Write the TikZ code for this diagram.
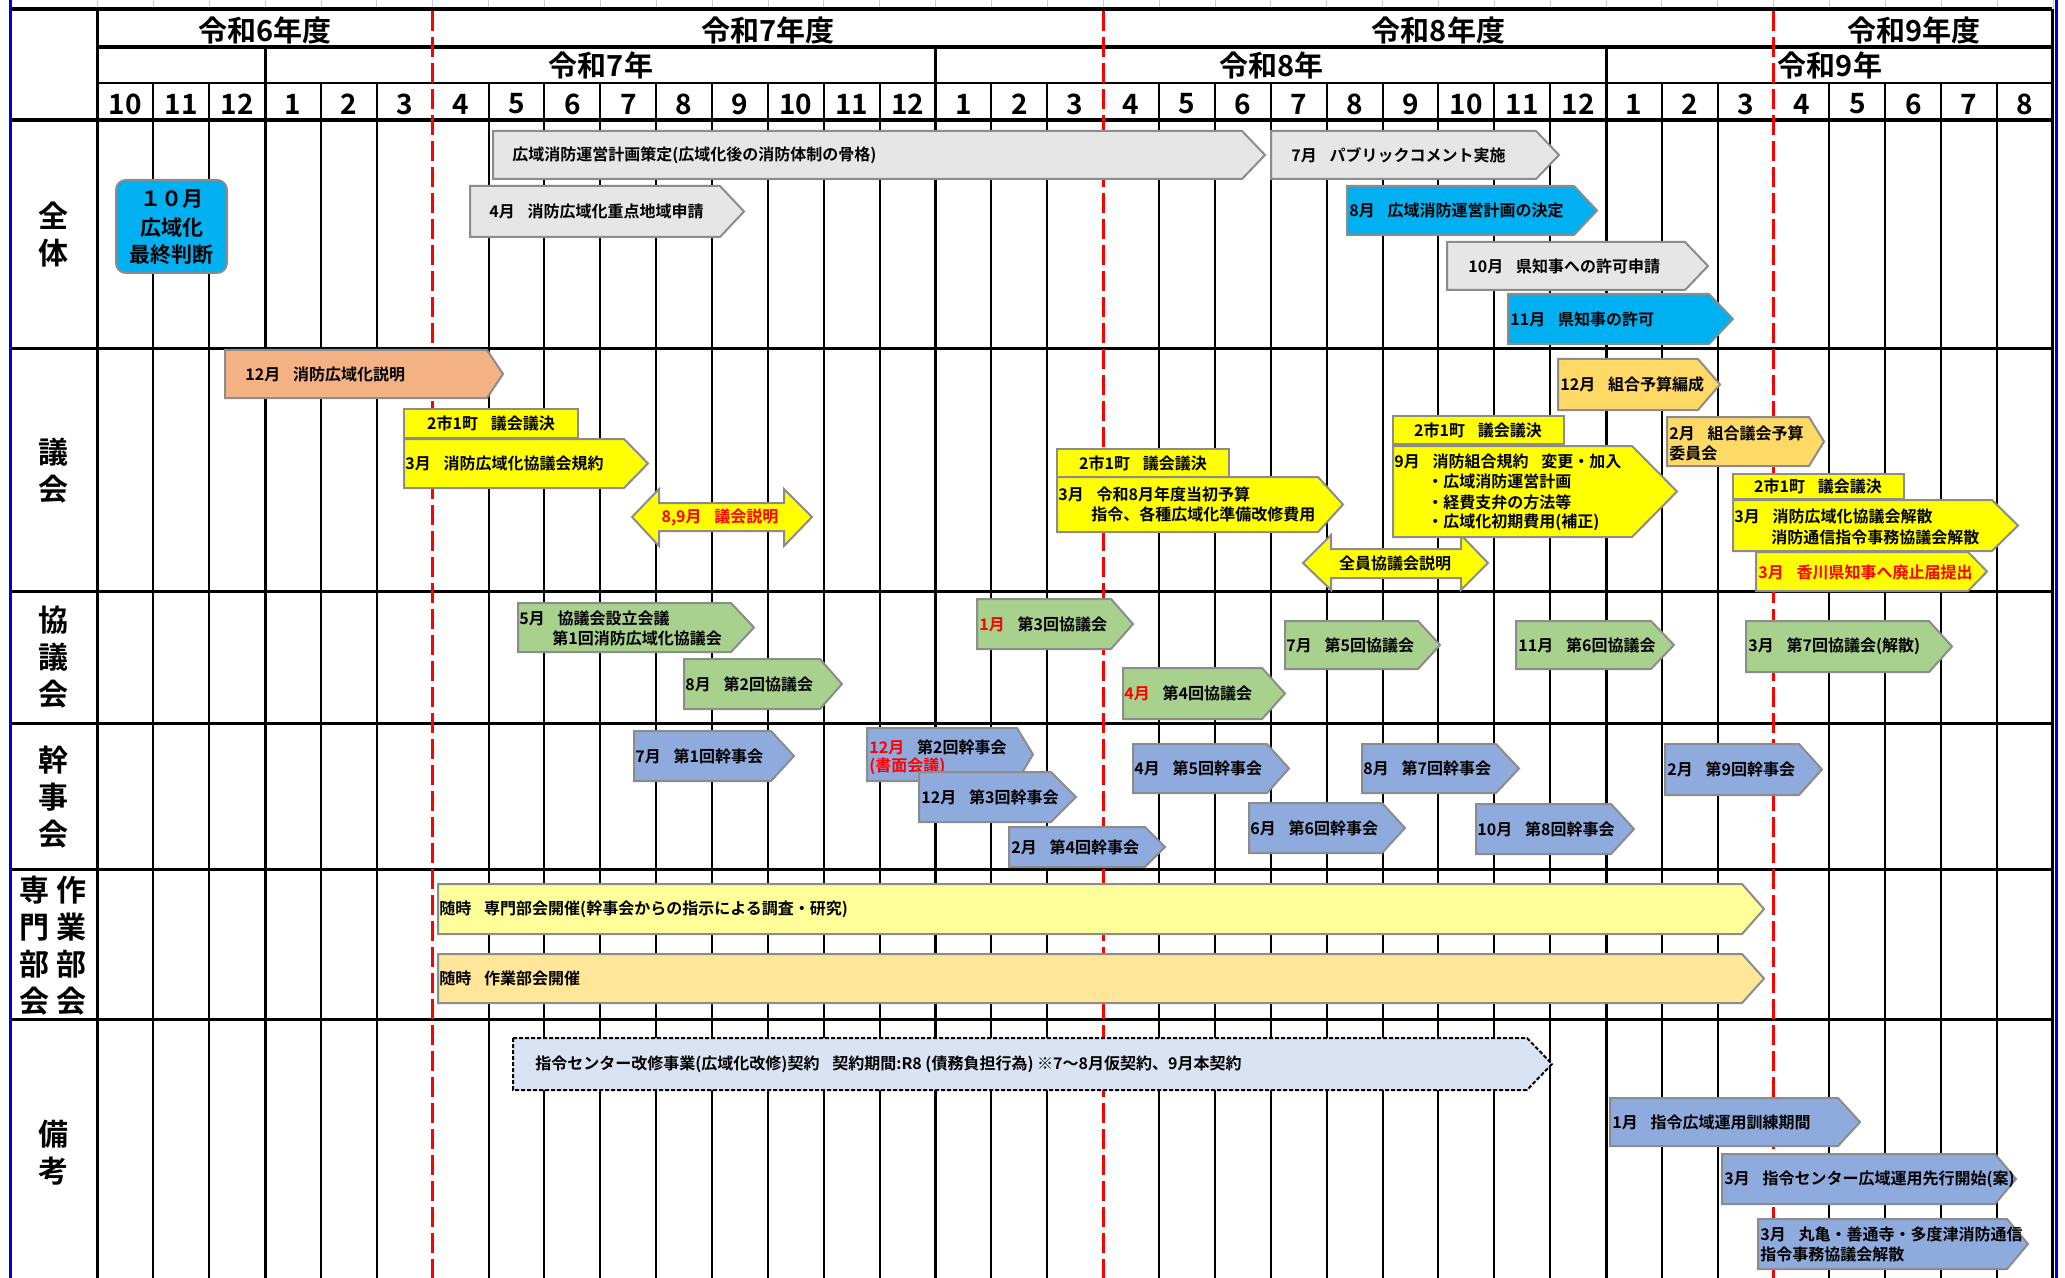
\documentclass[tikz,border=0pt]{standalone}
\usepackage{fontspec}
\setmainfont{Noto Sans CJK JP}[BoldFont={Noto Sans CJK JP Bold}]
\definecolor{barline}{RGB}{140,140,140}
\definecolor{graybar}{RGB}{231,230,230}
\definecolor{cyanbar}{RGB}{0,176,240}
\definecolor{salmonbar}{RGB}{244,177,131}
\definecolor{yellowbar}{RGB}{255,255,0}
\definecolor{goldbar}{RGB}{255,217,102}
\definecolor{greenbar}{RGB}{169,209,142}
\definecolor{bluebar}{RGB}{143,170,220}
\definecolor{paleyellow}{RGB}{255,255,153}
\definecolor{paleorange}{RGB}{255,230,153}
\definecolor{paleblue}{RGB}{218,227,243}
\definecolor{frameblue}{RGB}{0,0,210}
\newcommand{\gp}{\hspace{0.8em}}

\begin{document}
\begin{tikzpicture}[x=0.5pt,y=-0.5pt,
  txt/.style={anchor=west,font=\bfseries\fontsize{8}{10}\selectfont},
  ctr/.style={font=\bfseries\fontsize{8}{10}\selectfont},
  month/.style={font=\bfseries\fontsize{14}{16}\selectfont},
  fyear/.style={font=\bfseries\fontsize{14.5}{17}\selectfont},
  sect/.style={font=\bfseries\fontsize{15}{18.5}\selectfont,align=center},
  judge/.style={font=\bfseries\fontsize{10.5}{12}\selectfont},
  bar/.style={draw=barline,line width=1pt},
  grid/.style={black,line width=1pt},
  yeargrid/.style={black,line width=1.5pt},
  headgrid/.style={black,line width=2pt},
  fyline/.style={red,line width=1.5pt,dash pattern=on 10pt off 3pt}]
\tikzstyle{every node}+=[inner sep=0pt]
\useasboundingbox (0,0) rectangle (2065,1278);
\fill [white] (0,0) rectangle (2065,1278);

% grid
\foreach \i in {0,...,35}
  \draw [black!20] ({97.5+\i*55.87},0) -- ({97.5+\i*55.87},9);
\foreach \i in {1,2,4,5,7,8,9,10,11,12,13,14,16,17,19,20,21,22,23,24,25,26,28,29,31,32,33,34}
  \draw [grid] ({97.5+\i*55.87},82.7) -- ({97.5+\i*55.87},1278);
\foreach \i in {3,15,27}
  \draw [yeargrid] ({97.5+\i*55.87},46.7) -- ({97.5+\i*55.87},1278);
\draw [yeargrid] (97.5,9.3) -- (97.5,1278);
\draw [yeargrid] (2052,9.3) -- (2052,1278);
\draw [headgrid] (10,9.3) -- (2052,9.3);
\draw [headgrid] (97.5,46.7) -- (2052,46.7);
\draw [grid] (97.5,82.7) -- (2052,82.7);
\draw [headgrid] (10,120) -- (2052,120);
\foreach \y in {349,591.7,723.3,869.5,1019}
  \draw [yeargrid] (10,\y) -- (2052,\y);
\foreach \x in {432.8,1103.2,1773.6}
  \draw [fyline] (\x,11) -- (\x,1278);
\draw [frameblue,line width=1.5pt] (10,0) -- (10,1278);
\draw [frameblue,line width=1.5pt] (2056,0) -- (2056,1278);

% header
\node [fyear] (fy6) at (265,30) {令和6年度};
\node [fyear] (fy7) at (768,30) {令和7年度};
\node [fyear] (fy8) at (1438.5,30) {令和8年度};
\node [fyear] (fy9) at (1914,30) {令和9年度};
\node [fyear] (cy7) at (601,65.5) {令和7年};
\node [fyear] (cy8) at (1271.5,65.5) {令和8年};
\node [fyear] (cy9) at (1830,65.5) {令和9年};
\foreach \m [count=\i from 0] in {10,11,12,1,2,3,4,5,6,7,8,9,10,11,12,1,2,3,4,5,6,7,8,9,10,11,12,1,2,3,4,5,6,7,8}
  \node [month] (mon\i) at ({97.5+(\i+0.5)*55.87},104) {\m};

% row labels
\node [sect] (secall) at (53,235) {全\\体};
\node [sect] (secgikai) at (53,470.5) {議\\会};
\node [sect] (seckyo) at (53,657.5) {協\\議\\会};
\node [sect] (seckanji) at (53,797.5) {幹\\事\\会};
\node [sect] (secsenmon) at (34.5,946) {専\\門\\部\\会};
\node [sect] (secsagyo) at (71,946) {作\\業\\部\\会};
\node [sect] (secbiko) at (53,1153) {備\\考};

% zentai
\draw [bar,fill=cyanbar,rounded corners=5pt] (116,180) rectangle (227,273);
\node [judge] (judge1) at (171.5,199) {１０月};
\node [judge] (judge2) at (171.5,227.5) {広域化};
\node [judge] (judge3) at (171.5,255) {最終判断};
\draw [bar,fill=graybar] (493,131) -- (1242,131) -- (1265,155) -- (1242,179) -- (493,179) -- cycle;
\node [txt] (plan) at (512,155) {広域消防運営計画策定(広域化後の消防体制の骨格)};
\draw [bar,fill=graybar] (470,186) -- (720,186) -- (744,211.5) -- (720,237) -- (470,237) -- cycle;
\node [txt] (area) at (489,211.5) {4月\gp 消防広域化重点地域申請};
\draw [bar,fill=graybar] (1271,131) -- (1536,131) -- (1559,155) -- (1536,179) -- (1271,179) -- cycle;
\node [txt] (pubcom) at (1291,155) {7月\gp パブリックコメント実施};
\draw [bar,fill=cyanbar] (1347,186) -- (1574,186) -- (1597,210.5) -- (1574,235) -- (1347,235) -- cycle;
\node [txt] (decide) at (1349,210.5) {8月\gp 広域消防運営計画の決定};
\draw [bar,fill=graybar] (1447,242) -- (1685,242) -- (1708,266) -- (1685,290) -- (1447,290) -- cycle;
\node [txt] (permitreq) at (1468,266) {10月\gp 県知事への許可申請};
\draw [bar,fill=cyanbar] (1508,294) -- (1709,294) -- (1733,319) -- (1709,344) -- (1508,344) -- cycle;
\node [txt] (permit) at (1510,319) {11月\gp 県知事の許可};

% gikai
\draw [bar,fill=salmonbar] (225,350) -- (487,350) -- (503,374) -- (487,398) -- (225,398) -- cycle;
\node [txt] (explain) at (245,374) {12月\gp 消防広域化説明};
\draw [bar,fill=yellowbar] (404,409) rectangle (578,438);
\node [ctr] (voteA) at (491,423.5) {2市1町\gp 議会議決};
\draw [bar,fill=yellowbar] (404,439) -- (624,439) -- (648,463.5) -- (624,488) -- (404,488) -- cycle;
\node [txt] (rule) at (405,463.5) {3月\gp 消防広域化協議会規約};
\draw [bar,fill=yellowbar] (632,517) -- (659,489) -- (659,503) -- (784,503) -- (784,489) -- (812,517) -- (784,546) -- (784,531) -- (659,531) -- (659,546) -- cycle;
\node [ctr,text=red] (assembly) at (720,517) {8,9月\gp 議会説明};
\draw [bar,fill=yellowbar] (1057,449) rectangle (1229,477);
\node [ctr] (voteB) at (1143,463) {2市1町\gp 議会議決};
\draw [bar,fill=yellowbar] (1057,477) -- (1318,477) -- (1343,504.5) -- (1318,532) -- (1057,532) -- cycle;
\node [txt] (budgetA) at (1058,494) {3月\gp 令和8月年度当初予算};
\node [txt] (budgetB) at (1091,514) {指令、各種広域化準備改修費用};
\draw [bar,fill=yellowbar] (1303,563) -- (1331,535) -- (1331,549) -- (1461,549) -- (1461,535) -- (1488,563) -- (1461,590) -- (1461,578) -- (1331,578) -- (1331,590) -- cycle;
\node [ctr] (members) at (1395,563) {全員協議会説明};
\draw [bar,fill=yellowbar] (1393,416) rectangle (1564,444);
\node [ctr] (voteC) at (1478,430) {2市1町\gp 議会議決};
\draw [bar,fill=yellowbar] (1393,446) -- (1632,446) -- (1677,491.5) -- (1632,537) -- (1393,537) -- cycle;
\node [txt] (unionA) at (1394,461) {9月\gp 消防組合規約\gp 変更・加入};
\node [txt] (unionB) at (1427,481) {・広域消防運営計画};
\node [txt] (unionC) at (1427,502) {・経費支弁の方法等};
\node [txt] (unionD) at (1427,522) {・広域化初期費用(補正)};
\draw [bar,fill=goldbar] (1558,359) -- (1698,359) -- (1720,384.5) -- (1698,410) -- (1558,410) -- cycle;
\node [txt] (ubudget) at (1560,384.5) {12月\gp 組合予算編成};
\draw [bar,fill=goldbar] (1667,417) -- (1809,417) -- (1824,441.5) -- (1809,466) -- (1667,466) -- cycle;
\node [txt] (ucommA) at (1669,433) {2月\gp 組合議会予算};
\node [txt] (ucommB) at (1669,453) {委員会};
\draw [bar,fill=yellowbar] (1733,474) rectangle (1904,499);
\node [ctr] (voteD) at (1818,486.5) {2市1町\gp 議会議決};
\draw [bar,fill=yellowbar] (1733,500) -- (1992,500) -- (2018,525.5) -- (1992,551) -- (1733,551) -- cycle;
\node [txt] (dissolveA) at (1734,516) {3月\gp 消防広域化協議会解散};
\node [txt] (dissolveB) at (1771,537) {消防通信指令事務協議会解散};
\draw [bar,fill=yellowbar] (1756,552) -- (1968,552) -- (1987,571.5) -- (1968,591) -- (1756,591) -- cycle;
\node [txt,text=red] (notice) at (1758,572) {3月\gp 香川県知事へ廃止届提出};

% kyogikai
\draw [bar,fill=greenbar] (518,603) -- (731,603) -- (754,627.5) -- (731,652) -- (518,652) -- cycle;
\node [txt] (kyo1A) at (519,618) {5月\gp 協議会設立会議};
\node [txt] (kyo1B) at (552,638) {第1回消防広域化協議会};
\draw [bar,fill=greenbar] (684,659) -- (820,659) -- (842,684) -- (820,709) -- (684,709) -- cycle;
\node [txt] (kyo2) at (685,684) {8月\gp 第2回協議会};
\draw [bar,fill=greenbar] (977,599) -- (1111,599) -- (1133,624) -- (1111,649) -- (977,649) -- cycle;
\node [txt] (kyo3) at (979,624) {{\color{red}1月}\gp 第3回協議会};
\draw [bar,fill=greenbar] (1123,668) -- (1262,668) -- (1285,693.5) -- (1262,719) -- (1123,719) -- cycle;
\node [txt] (kyo4) at (1124,693.5) {{\color{red}4月}\gp 第4回協議会};
\draw [bar,fill=greenbar] (1285,621) -- (1418,621) -- (1440,645) -- (1418,669) -- (1285,669) -- cycle;
\node [txt] (kyo5) at (1286,645) {7月\gp 第5回協議会};
\draw [bar,fill=greenbar] (1516,621) -- (1651,621) -- (1674,645) -- (1651,669) -- (1516,669) -- cycle;
\node [txt] (kyo6) at (1518,645) {11月\gp 第6回協議会};
\draw [bar,fill=greenbar] (1746,621) -- (1929,621) -- (1952,646.5) -- (1929,672) -- (1746,672) -- cycle;
\node [txt] (kyo7) at (1748,646.5) {3月\gp 第7回協議会(解散)};

% kanjikai
\draw [bar,fill=bluebar] (634,731) -- (771,731) -- (794,756) -- (771,781) -- (634,781) -- cycle;
\node [txt] (kan1) at (635,756) {7月\gp 第1回幹事会};
\draw [bar,fill=bluebar] (867,728) -- (1017,728) -- (1033,754.5) -- (1017,781) -- (867,781) -- cycle;
\node [txt] (kan2A) at (869,747) {{\color{red}12月}\gp 第2回幹事会};
\node [txt,text=red] (kan2B) at (869,766) {(書面会議)};
\draw [bar,fill=bluebar] (919,772) -- (1051,772) -- (1076,797) -- (1051,822) -- (919,822) -- cycle;
\node [txt] (kan3) at (921,797) {12月\gp 第3回幹事会};
\draw [bar,fill=bluebar] (1009,827) -- (1145,827) -- (1165,847) -- (1145,867) -- (1009,867) -- cycle;
\node [txt] (kan4) at (1011,847) {2月\gp 第4回幹事会};
\draw [bar,fill=bluebar] (1133,744) -- (1267,744) -- (1289,768.5) -- (1267,793) -- (1133,793) -- cycle;
\node [txt] (kan5) at (1134,768.5) {4月\gp 第5回幹事会};
\draw [bar,fill=bluebar] (1249,803) -- (1382,803) -- (1405,828) -- (1382,853) -- (1249,853) -- cycle;
\node [txt] (kan6) at (1250,828) {6月\gp 第6回幹事会};
\draw [bar,fill=bluebar] (1362,744) -- (1496,744) -- (1519,768.5) -- (1496,793) -- (1362,793) -- cycle;
\node [txt] (kan7) at (1363,768.5) {8月\gp 第7回幹事会};
\draw [bar,fill=bluebar] (1476,804) -- (1611,804) -- (1634,829) -- (1611,854) -- (1476,854) -- cycle;
\node [txt] (kan8) at (1477,829) {10月\gp 第8回幹事会};
\draw [bar,fill=bluebar] (1665,744) -- (1799,744) -- (1822,769.5) -- (1799,795) -- (1665,795) -- cycle;
\node [txt] (kan9) at (1667,769.5) {2月\gp 第9回幹事会};

% senmon / sagyo bukai
\draw [bar,fill=paleyellow] (438,884) -- (1742,884) -- (1764,909) -- (1742,934) -- (438,934) -- cycle;
\node [txt] (senmon) at (439,909) {随時\gp 専門部会開催(幹事会からの指示による調査・研究)};
\draw [bar,fill=paleorange] (438,954) -- (1742,954) -- (1764,978.5) -- (1742,1003) -- (438,1003) -- cycle;
\node [txt] (sagyo) at (439,978.5) {随時\gp 作業部会開催};

% biko
\draw [black,line width=1pt,dash pattern=on 2pt off 1pt,fill=paleblue] (513,1038) -- (1527,1038) -- (1552,1064) -- (1527,1090) -- (513,1090) -- cycle;
\node [txt] (contract) at (535,1064) {指令センター改修事業(広域化改修)契約\gp 契約期間:R8 (債務負担行為) ※7～8月仮契約、9月本契約};
\draw [bar,fill=bluebar] (1610,1098) -- (1838,1098) -- (1860,1122) -- (1838,1146) -- (1610,1146) -- cycle;
\node [txt] (training) at (1612,1122) {1月\gp 指令広域運用訓練期間};
\draw [bar,fill=bluebar] (1722,1154) -- (1995,1154) -- (2016,1179) -- (1995,1204) -- (1722,1204) -- cycle;
\node [txt] (advance) at (1724,1179) {3月\gp 指令センター広域運用先行開始(案)};
\draw [bar,fill=bluebar] (1758,1219) -- (2007,1219) -- (2028,1244) -- (2007,1269) -- (1758,1269) -- cycle;
\node [txt] (commA) at (1760,1234) {3月\gp 丸亀・善通寺・多度津消防通信};
\node [txt] (commB) at (1760,1254) {指令事務協議会解散};
\end{tikzpicture}
\end{document}
